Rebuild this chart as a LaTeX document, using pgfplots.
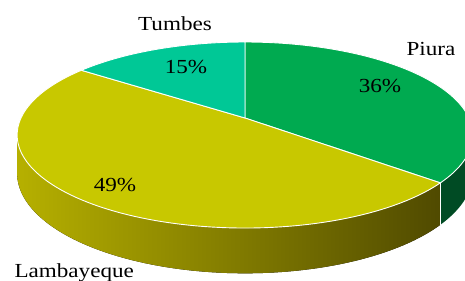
\documentclass[border=0pt]{standalone}
\usepackage{pgfplots}
\pgfplotsset{compat=1.18}
\usepackage{pgfplotstable}
\usepgfplotslibrary{fillbetween}
\usepackage{graphicx}
\usepackage{fontspec}
\setmainfont{Liberation Serif}
\definecolor{piura}{RGB}{0,170,80}
\definecolor{piuraside}{RGB}{0,75,36}
\definecolor{tumbes}{RGB}{0,200,150}
\definecolor{lamb}{RGB}{200,200,0}
\definecolor{lambL}{RGB}{182,176,0}
\definecolor{lambM}{RGB}{118,112,0}
\definecolor{lambR}{RGB}{80,74,0}
\pgfplotstableread{
name value
Piura 36
Lambayeque 49
Tumbes 15
}\piedata
\newcommand\lab[1]{\scalebox{1.16}[1]{\fontsize{20}{24}\selectfont #1}}
\pgfplotstablegetelem{0}{value}\of\piedata \edef\vP{\pgfplotsretval}%
\pgfplotstablegetelem{1}{value}\of\piedata \edef\vL{\pgfplotsretval}%
\pgfplotstablegetelem{2}{value}\of\piedata \edef\vT{\pgfplotsretval}%
\pgfmathsetmacro\aA{90}%
\pgfmathsetmacro\aB{90-3.6*\vP}%
\pgfmathsetmacro\aC{\aB-3.6*\vL}%
\pgfmathsetmacro\aD{\aC-3.6*\vT}%
\begin{document}%
\begin{tikzpicture}
\begin{axis}[at={(0,0)},anchor=south west,width=465bp,height=281bp,scale only axis,
  xmin=0,xmax=465,ymin=0,ymax=281,hide axis,clip=true,
  declare function={ww(\t)=1+0.183*sin(\t);
    px(\t)=245+224*cos(\t)/ww(\t);
    py(\t)=163+89.9*sin(\t)/ww(\t);
    pb(\t)=py(\t)-37/ww(\t);}]
% side walls
\addplot[draw=none,name path=lt,domain=-169.5:\aB,samples=80,variable=\t] ({px(t)},{py(t)});
\addplot[draw=none,name path=lb,domain=-169.5:\aB,samples=80,variable=\t] ({px(t)},{pb(t)});
\addplot[left color=lambL,middle color=lambM,right color=lambR,draw=none] fill between[of=lt and lb];
\addplot[draw=none,name path=pt,domain=\aB:-8,samples=30,variable=\t] ({px(t)},{py(t)});
\addplot[draw=none,name path=pbb,domain=\aB:-8,samples=30,variable=\t] ({px(t)},{pb(t)});
\addplot[fill=piuraside,draw=none] fill between[of=pt and pbb];
\addplot[white,line width=0.9pt,domain=0:1,samples=2,variable=\t] ({px(\aB)},{py(\aB)-37*t/ww(\aB)});
% top faces
\addplot[fill=piura,draw=white,line width=0.9pt,domain=\aB:\aA,samples=80,variable=\t] ({px(t)},{py(t)}) -- (axis cs:245,163) -- cycle;
\addplot[fill=lamb,draw=white,line width=0.9pt,domain=\aC:\aB,samples=100,variable=\t] ({px(t)},{py(t)}) -- (axis cs:245,163) -- cycle;
\addplot[fill=tumbes,draw=white,line width=0.9pt,domain=\aD:\aC,samples=40,variable=\t] ({px(t)},{py(t)}) -- (axis cs:245,163) -- cycle;
% labels
\node[anchor=base] at (axis cs:175,250) {\lab{Tumbes}};
\node[anchor=base] at (axis cs:431,225) {\lab{Piura}};
\node[anchor=base west] at (axis cs:11,4) {\lab{Lambayeque}};
\node[anchor=base] at (axis cs:186,207) {\lab{15\%}};
\node[anchor=base] at (axis cs:380,188) {\lab{36\%}};
\node[anchor=base] at (axis cs:115,89) {\lab{49\%}};
\end{axis}
\pgfresetboundingbox
\useasboundingbox (0,0) rectangle (465bp,281bp);
\end{tikzpicture}%
\end{document}
